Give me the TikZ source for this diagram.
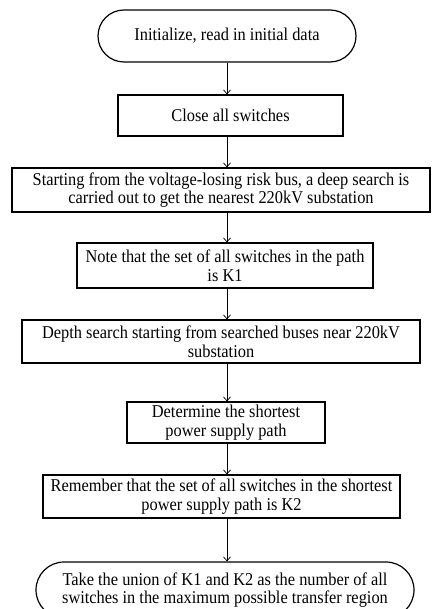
\documentclass[tikz,border=0pt]{standalone}
\usepackage{fontspec}
\setmainfont{Liberation Serif}[FakeStretch=0.91]
\usetikzlibrary{shapes.misc}
\usetikzlibrary{arrows.meta}

\begin{document}
\begin{tikzpicture}[x=1pt, y=-1pt,
  font=\fontsize{18}{18.5}\selectfont,
  term/.style={draw, line width=1.2pt, rounded rectangle, align=center, inner sep=1pt},
  proc/.style={draw, line width=1.2pt, rectangle, align=center, inner sep=1pt},
  arr/.style={-{Straight Barb[length=4pt,width=7pt]}, line width=0.7pt}]

\useasboundingbox (0,0) rectangle (432,609);
\clip (0,0) rectangle (432,609);

\coordinate (axis) at (227,0);

\node [term, minimum width=260, minimum height=52] (init) at (227,36) {Initialize, read in initial data};
\node [proc, minimum width=225, minimum height=41] (close) at (230.5,115.5) {Close all switches};
\node [proc, minimum width=418, minimum height=44] (search) at (221,190) {Starting from the voltage-losing risk bus, a deep search is\\carried out to get the nearest 220kV substation};
\node [proc, minimum width=296, minimum height=45] (kone) at (225,265.5) {Note that the set of all switches in the path\\is K1};
\node [proc, minimum width=398, minimum height=43] (depth) at (221,341.5) {Depth search starting from searched buses near 220kV\\substation};
\node [proc, minimum width=198, minimum height=41] (short) at (226,422.5) {Determine the shortest\\power supply path};
\node [proc, minimum width=357, minimum height=43] (ktwo) at (221.5,496.5) {Remember that the set of all switches in the shortest\\power supply path is K2};
\node [term, minimum width=380, minimum height=56] (union) at (225,590) {Take the union of K1 and K2 as the number of all\\switches in the maximum possible transfer region};

\foreach \a/\b in {init/close, close/search, search/kone, kone/depth, depth/short, short/ktwo, ktwo/union}
  {\draw [arr] (\a.south -| axis) -- (\b.north -| axis);}

\end{tikzpicture}
\end{document}
